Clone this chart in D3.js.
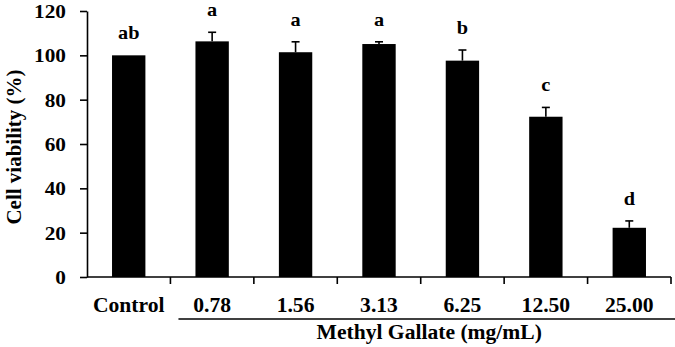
<!DOCTYPE html>
<html>
<head>
<meta charset="utf-8">
<script src="https://cdn.jsdelivr.net/npm/d3@7"></script>
<style>
  html, body { margin: 0; padding: 0; background: #fff; }
  svg text { font-family: "Liberation Serif", "Times New Roman", serif; font-weight: bold; fill: #000; }
</style>
</head>
<body>
<svg id="chart" width="675" height="347"></svg>
<script>
// ---- data ----
const categories = ["Control", "0.78", "1.56", "3.13", "6.25", "12.50", "25.00"];
const viability  = [100, 106.3, 101.4, 105.1, 97.6, 72.3, 22.2];
const errors     = [0, 4.1, 4.7, 1.0, 4.8, 4.2, 3.1];
const letters    = ["ab", "a", "a", "a", "b", "c", "d"];
const yTicks     = [0, 20, 40, 60, 80, 100, 120];
const yTitle     = "Cell viability (%)";
const groupTitle = "Methyl Gallate (mg/mL)";

// ---- layout ----
const svg = d3.select("#chart");
const mLeft = 87, mRight = 671, mTop = 11, mBottom = 277;
const SX = 1.08; // slight horizontal stretch of the original's lettering

const x = d3.scaleBand().domain(categories).range([mLeft, mRight])
  .paddingInner(0.6).paddingOuter(0.3);
const y = d3.scaleLinear().domain([0, 120]).range([mBottom, mTop]);

// bars
svg.append("g").selectAll("rect").data(categories).join("rect")
  .attr("x", d => x(d))
  .attr("width", x.bandwidth())
  .attr("y", (d, i) => y(viability[i]))
  .attr("height", (d, i) => y(0) - y(viability[i]))
  .attr("fill", "#000");

// error bars (upper only)
const eg = svg.append("g").attr("stroke", "#000").attr("stroke-width", 1.6);
categories.forEach((c, i) => {
  if (!errors[i]) return;
  const cx = x(c) + x.bandwidth() / 2;
  eg.append("line").attr("x1", cx).attr("x2", cx)
    .attr("y1", y(viability[i])).attr("y2", y(viability[i] + errors[i]));
  eg.append("line").attr("x1", cx - 4).attr("x2", cx + 4)
    .attr("y1", y(viability[i] + errors[i])).attr("y2", y(viability[i] + errors[i]));
});

// significance letters
svg.append("g").selectAll("text").data(categories).join("text")
  .attr("transform", (d, i) =>
    `translate(${x(d) + x.bandwidth() / 2},${y(viability[i] + errors[i]) - 16}) scale(1.04,1)`)
  .attr("text-anchor", "middle")
  .style("font-size", "19.5px")
  .text((d, i) => letters[i]);

// y axis
const yAxis = svg.append("g").attr("transform", `translate(${mLeft},0)`)
  .call(d3.axisLeft(y).tickValues(yTicks).tickSize(7).tickSizeOuter(0));
yAxis.select(".domain").attr("stroke", "#000").attr("stroke-width", 1.6);
yAxis.selectAll(".tick line").attr("stroke", "#000").attr("stroke-width", 1.6);
yAxis.selectAll(".tick text")
  .attr("x", 0).attr("dy", "0.34em")
  .attr("transform", "translate(-21,0) scale(1.12,1)")
  .style("font-size", "19px")
  .style("font-family", "'Liberation Serif', serif").style("font-weight", "bold").attr("fill", "#000");

// x axis
const xAxis = svg.append("g").attr("transform", `translate(0,${mBottom})`)
  .call(d3.axisBottom(x).tickSize(0).tickSizeOuter(0));
xAxis.select(".domain").attr("stroke", "#000").attr("stroke-width", 1.6)
  .attr("d", `M${mLeft},0H${mRight}`);
xAxis.selectAll(".tick text").attr("y", 0).attr("dy", 0)
  .attr("transform", `translate(0,34.5) scale(${SX},1)`)
  .style("font-size", "20px").style("font-family", "'Liberation Serif', serif")
  .style("font-weight", "bold").attr("fill", "#000");

// category boundary ticks
const bounds = categories.slice(1).map(c => x(c) + x.bandwidth() / 2 - x.step() / 2)
  .concat([mRight]);
xAxis.append("g").selectAll("line").data(bounds).join("line")
  .attr("x1", d => d).attr("x2", d => d).attr("y1", 0).attr("y2", 7)
  .attr("stroke", "#000").attr("stroke-width", 1.6);

// group underline & title
const first = x(categories[1]), last = x(categories[categories.length - 1]) + x.bandwidth();
const gx1 = first - 17, gx2 = last + 34;
svg.append("line").attr("x1", gx1).attr("x2", gx2).attr("y1", 319).attr("y2", 319)
  .attr("stroke", "#000").attr("stroke-width", 1.6);
svg.append("text")
  .attr("transform", `translate(${(gx1 + gx2) / 2},338.5) scale(${SX},1)`)
  .attr("text-anchor", "middle").style("font-size", "20px").text(groupTitle);

// y title
svg.append("text")
  .attr("transform", `translate(21,${(mTop + mBottom) / 2 + 3}) rotate(-90)`)
  .attr("text-anchor", "middle").style("font-size", "21px").text(yTitle);
</script>
</body>
</html>
